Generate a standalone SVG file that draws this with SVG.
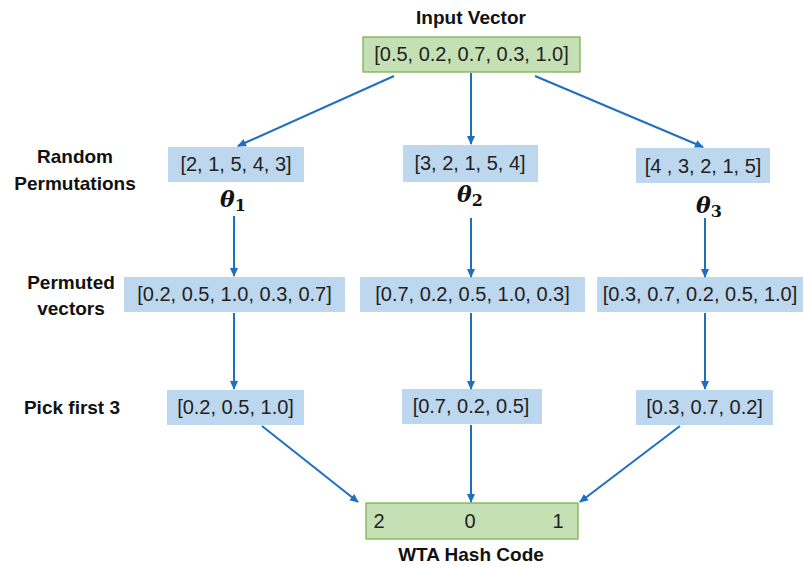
<svg xmlns="http://www.w3.org/2000/svg" width="804" height="567" viewBox="0 0 804 567">
<style>
.lbl{font-family:"Liberation Sans",Arial,sans-serif;font-weight:bold;font-size:19px;fill:#111;text-anchor:middle}
.val{font-family:"Liberation Sans",Arial,sans-serif;font-size:20px;fill:#222;text-anchor:middle}
.blue{fill:#bdd7ee}
.green{fill:#c5e0b4;stroke:#70ad47;stroke-width:1.2}
.th{font-family:"DejaVu Serif","Liberation Serif",serif;font-weight:bold;font-style:italic;font-size:22px;fill:#111;text-anchor:middle}
.sub{font-style:normal;font-size:16px}
.conn line{stroke:#1f6fbf;stroke-width:2;marker-end:url(#ah)}
</style>
<defs>
<marker id="ah" markerWidth="10" markerHeight="10" refX="8" refY="5" orient="auto" markerUnits="userSpaceOnUse">
<path d="M0,1 L9,5 L0,9 Z" fill="#1f6fbf"/>
</marker>
</defs>
<rect width="804" height="567" fill="#fff"/>

<g id="labels">
<text class="lbl" x="75" y="163">Random</text>
<text class="lbl" x="75" y="190">Permutations</text>
<text class="lbl" x="71" y="289">Permuted</text>
<text class="lbl" x="71" y="315">vectors</text>
<text class="lbl" x="72" y="414">Pick first 3</text>
</g>

<g id="input">
<text class="lbl" x="471" y="24">Input Vector</text>
<rect class="green" x="363" y="37" width="217" height="35"/>
<text class="val" x="471.5" y="61">[0.5, 0.2, 0.7, 0.3, 1.0]</text>
</g>

<g id="perm1">
<rect class="blue" x="168" y="147" width="136" height="35"/>
<text class="val" x="236" y="171">[2, 1, 5, 4, 3]</text>
<text class="th" x="233" y="207">θ<tspan class="sub" dy="4">1</tspan></text>
</g>
<g id="perm2">
<rect class="blue" x="403" y="145" width="135" height="37"/>
<text class="val" x="470" y="170">[3, 2, 1, 5, 4]</text>
<text class="th" x="470" y="202">θ<tspan class="sub" dy="4">2</tspan></text>
</g>
<g id="perm3">
<rect class="blue" x="636" y="148" width="134" height="35"/>
<text class="val" x="703" y="173">[4 , 3, 2, 1, 5]</text>
<text class="th" x="709" y="213">θ<tspan class="sub" dy="4">3</tspan></text>
</g>

<g id="pv1">
<rect class="blue" x="124" y="277" width="221" height="35"/>
<text class="val" x="234.5" y="301">[0.2, 0.5, 1.0, 0.3, 0.7]</text>
</g>
<g id="pv2">
<rect class="blue" x="360" y="277" width="225" height="35"/>
<text class="val" x="472.5" y="301">[0.7, 0.2, 0.5, 1.0, 0.3]</text>
</g>
<g id="pv3">
<rect class="blue" x="597" y="277" width="206" height="35"/>
<text class="val" x="700" y="301">[0.3, 0.7, 0.2, 0.5, 1.0]</text>
</g>

<g id="pick1">
<rect class="blue" x="167" y="390" width="137" height="35"/>
<text class="val" x="235.5" y="414">[0.2, 0.5, 1.0]</text>
</g>
<g id="pick2">
<rect class="blue" x="402" y="389" width="140" height="35"/>
<text class="val" x="471" y="413">[0.7, 0.2, 0.5]</text>
</g>
<g id="pick3">
<rect class="blue" x="636" y="390" width="137" height="35"/>
<text class="val" x="704.5" y="414">[0.3, 0.7, 0.2]</text>
</g>

<g id="wta">
<rect class="green" x="366" y="503" width="212" height="36"/>
<text class="val" x="379" y="528">2</text>
<text class="val" x="470" y="528">0</text>
<text class="val" x="558" y="528">1</text>
<text class="lbl" x="471" y="561">WTA Hash Code</text>
</g>

<g id="connectors" class="conn">
<line x1="394" y1="76" x2="238" y2="146"/>
<line x1="471" y1="73" x2="471" y2="144"/>
<line x1="535" y1="76" x2="703" y2="147"/>
<line x1="234" y1="216" x2="234" y2="276"/>
<line x1="471" y1="218" x2="471" y2="277"/>
<line x1="705" y1="218" x2="705" y2="277"/>
<line x1="234" y1="313" x2="234" y2="389"/>
<line x1="471" y1="313" x2="471" y2="389"/>
<line x1="705" y1="313" x2="705" y2="389"/>
<line x1="262" y1="426" x2="358" y2="502"/>
<line x1="471" y1="425" x2="471" y2="502"/>
<line x1="680" y1="426" x2="580" y2="502"/>
</g>
</svg>
